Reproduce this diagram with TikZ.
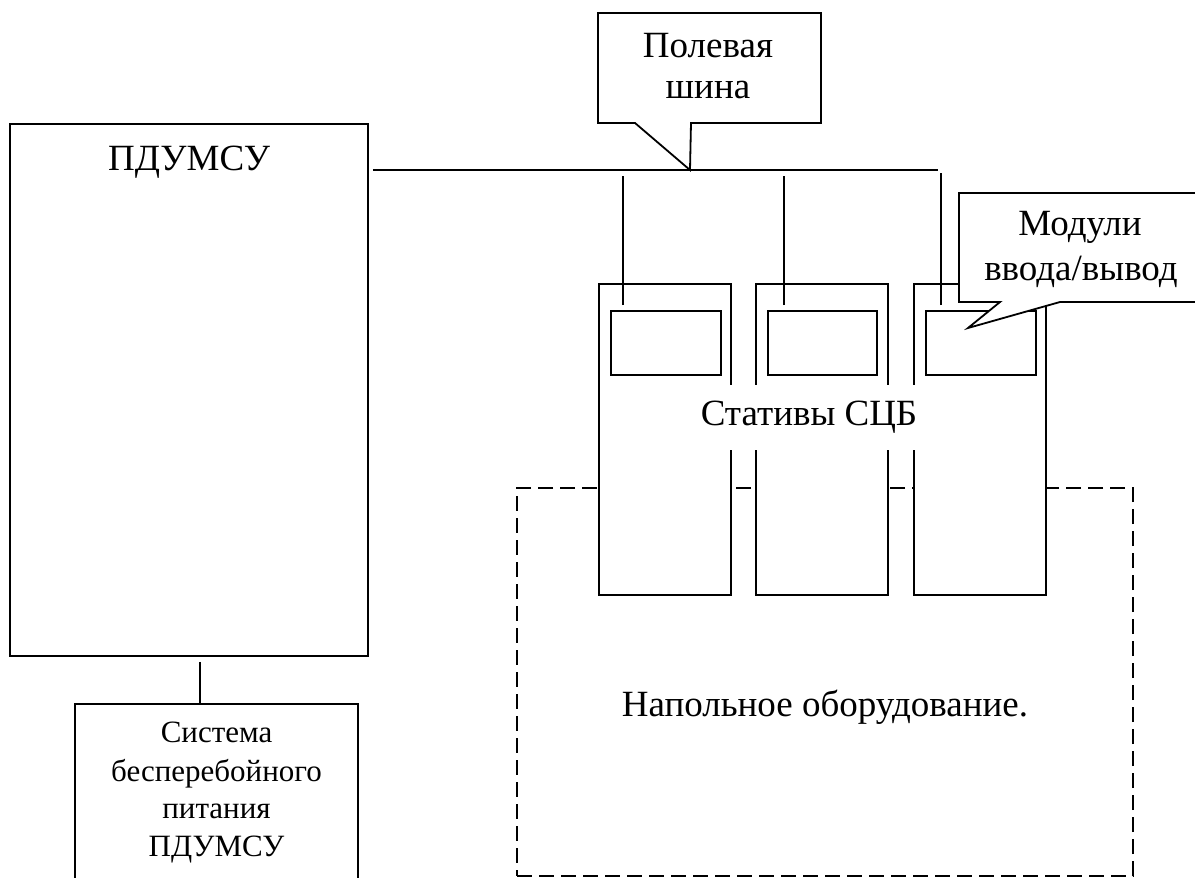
\documentclass[tikz,border=0pt]{standalone}
\usepackage{fontspec}
\setmainfont{Liberation Serif}
\usetikzlibrary{fit}
\begin{document}
\begin{tikzpicture}[x=1pt,y=-1pt,line width=1.8pt,
  blk/.style={draw,inner sep=0pt,line width=1.8pt},
  cab/.style={blk,fill=white},
  big/.style={font=\fontsize{37}{42}\selectfont,inner sep=0pt},
  small/.style={font=\fontsize{31}{38}\selectfont,inner sep=0pt},
  dsh/.style={draw,line width=1.6pt,dash pattern=on 15pt off 7pt}]
\useasboundingbox (0,0) rectangle (1195,878);
\clip (0,0) rectangle (1195,878);
% dashed field area
\node[fit={(517,488)(1133,876)},dsh,inner sep=0pt] (field) {};
% control panel
\node[fit={(10,124)(368,656)},blk] (pdu) {};
\node[big,anchor=base] (pdulbl) at (189,170) {ПДУМСУ};
% UPS
\node[fit={(75,704)(358,900)},blk] (ups) {};
\node[small,anchor=base] (u1) at (216.5,742) {Система};
\node[small,anchor=base] (u2) at (216.5,781) {бесперебойного};
\node[small,anchor=base] (u3) at (216.5,818) {питания};
\node[small,anchor=base] (u4) at (216.5,856) {ПДУМСУ};
\draw ([yshift=-5pt]pdu.south -| 200,0) -- (ups.north -| 200,0);
% cabinets
\node[fit={(599,284)(731,595)},cab] (c1) {};
\node[fit={(756,284)(888,595)},cab] (c2) {};
\node[fit={(914,284)(1046,595)},cab] (c3) {};
\node[fit={(611,311)(721,375)},blk] (m1) {};
\node[fit={(768,311)(877,375)},blk] (m2) {};
\node[fit={(926,311)(1036,375)},blk] (m3) {};
% bus
\coordinate (busR) at (938,170);
\coordinate (tip1) at (690,170);
\draw ([xshift=4pt]pdu.north east |- busR) -- (busR);
\path (m1.north west) ++(13,-5) coordinate (d1);
\path (m2.north west) ++(17,-5) coordinate (d2);
\path (m3.north west) ++(16,-5) coordinate (d3);
\draw (d1) -- (d1 |- 0,176);
\draw (d2) -- (d2 |- 0,176);
\draw (d3) -- (d3 |- 0,173);
% cabinets label
\node[big,fill=white,inner xsep=3pt,minimum height=65pt] (statlbl) at (809,417) {Стативы СЦБ};
% field label
\node[big,anchor=base] (fieldlbl) at (825,716) {Напольное оборудование.};
% callout: modules
\coordinate (tip2) at (968,328);
\draw[fill=white] (959,193) -- (1215,193) -- (1215,302) -- (1060,302) -- (tip2) -- (1000,302) -- (959,302) -- cycle;
\node[big,anchor=base] (modl1) at (1080,235) {Модули};
\node[big,anchor=base] (modl2) at (1081,280) {ввода/вывод};
% callout: field bus
\draw[fill=white] (598,13) -- (821,13) -- (821,123) -- (691,123) -- (tip1) -- (635,123) -- (598,123) -- cycle;
\node[big,anchor=base] (busl1) at (708,57) {Полевая};
\node[big,anchor=base] (busl2) at (708,98) {шина};
\end{tikzpicture}
\end{document}
